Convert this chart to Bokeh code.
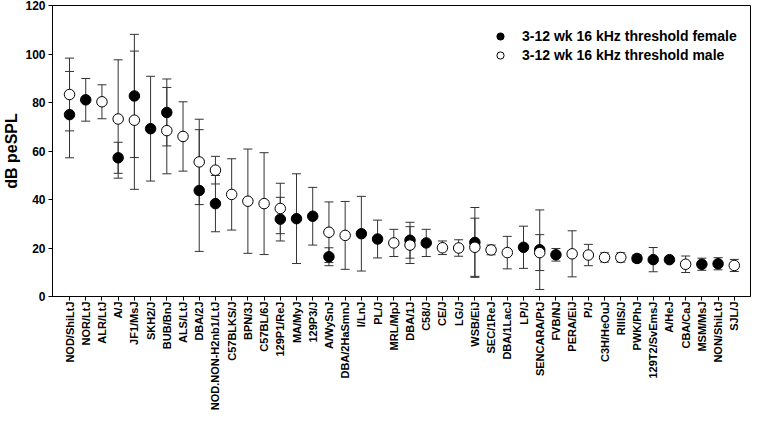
import math
from bokeh.plotting import figure
from bokeh.models import (ColumnDataSource, Range1d, FixedTicker, Whisker, TeeHead,
                          Legend, LegendItem)
from bokeh.embed import file_html
from bokeh.resources import INLINE

strains = ["NOD/ShiLtJ", "NOR/LtJ", "ALR/LtJ", "A/J", "JF1/MsJ", "SKH2/J", "BUB/BnJ",
           "ALS/LtJ", "DBA/2J", "NOD.NON-H2nb1/LtJ", "C57BLKS/J", "BPN/3J", "C57BL/6J",
           "129P1/ReJ", "MA/MyJ", "129P3/J", "A/WySnJ", "DBA/2HaSmnJ", "I/LnJ", "PL/J",
           "MRL/MpJ", "DBA/1J", "C58/J", "CE/J", "LG/J", "WSB/EiJ", "SEC/1ReJ",
           "DBA/1LacJ", "LP/J", "SENCARA/PtJ", "FVB/NJ", "PERA/EiJ", "P/J", "C3H/HeOuJ",
           "RIIIS/J", "PWK/PhJ", "129T2/SvEmsJ", "A/HeJ", "CBA/CaJ", "MSM/MsJ",
           "NON/ShiLtJ", "SJL/J"]

female_mean = [75.0, 81.1, None, 57.2, 82.7, 69.2, 75.9, None, 43.7, 38.3, None, None,
               None, 31.9, 32.1, 33.1, 16.4, None, 25.9, 23.7, None, 23.2, 22.1, None,
               None, 22.3, None, None, 20.3, 19.3, 17.2, None, None, None, None, 15.7,
               15.2, 15.2, None, 13.3, 13.5, None]
female_sd = [17.8, 8.8, None, 6.4, 25.4, 21.6, 13.8, None, 25.1, 11.6, None, None,
             None, 9.0, 18.5, 11.9, 3.7, None, 15.4, 7.8, None, 7.4, 5.6, None,
             None, 14.4, None, None, 8.7, 16.4, 2.6, None, None, None, None, 1.5,
             5.0, 1.0, None, 2.5, 2.5, None]

male_mean = [83.3, None, 80.3, 73.2, 72.7, None, 68.4, 66.0, 55.5, 52.1, 42.1, 39.3,
             38.3, 36.3, None, None, 26.5, 25.2, None, None, 22.1, 21.2, None, 20.1,
             20.0, 20.3, 19.2, 18.1, None, 18.1, None, 17.6, 17.1, 16.1, 16.1, None,
             None, None, 13.3, None, None, 12.8]
male_sd = [15.0, None, 7.0, 24.4, 28.5, None, 17.8, 14.3, 17.6, 5.7, 14.7, 21.5,
           21.0, 10.4, None, None, 12.5, 14.0, None, None, 5.6, 7.6, None, 2.8,
           3.4, 12.0, 2.0, 6.7, None, 7.4, None, 9.5, 4.4, 1.9, 1.9, None,
           None, None, 3.4, None, None, 2.5]

y_ticks = [0, 20, 40, 60, 80, 100, 120]
series_labels = ["3-12 wk 16 kHz threshold female", "3-12 wk 16 kHz threshold male"]


def build(mean, sd):
    xs, ys, lo, hi = [], [], [], []
    for i, (m, s) in enumerate(zip(mean, sd)):
        if m is None:
            continue
        xs.append(i)
        ys.append(m)
        lo.append(m - s)
        hi.append(m + s)
    return ColumnDataSource(dict(x=xs, y=ys, lower=lo, upper=hi))


FONT = "Liberation Sans"
BAR = "#333333"

fsrc = build(female_mean, female_sd)
msrc = build(male_mean, male_sd)

p = figure(width=751, height=414, output_backend="svg", toolbar_location=None,
           x_range=Range1d(-1.05, 42.0), y_range=Range1d(0, 120),
           min_border_left=47, min_border_right=1, min_border_top=5,
           min_border_bottom=118)
p.xgrid.visible = False
p.ygrid.visible = False
p.outline_line_color = "black"
p.outline_line_alpha = 1
p.outline_line_width = 1
p.background_fill_color = "white"
p.border_fill_color = "white"

for src in (fsrc, msrc):
    w = Whisker(source=src, base="x", upper="upper", lower="lower",
                line_color=BAR, line_width=1,
                upper_head=TeeHead(size=9, line_color=BAR, line_width=1),
                lower_head=TeeHead(size=9, line_color=BAR, line_width=1))
    w.level = "underlay"
    p.add_layout(w)

fr = p.scatter("x", "y", source=fsrc, size=10.5, marker="circle",
               fill_color="black", line_color="black", line_width=1)
mr = p.scatter("x", "y", source=msrc, size=10.5, marker="circle",
               fill_color="white", line_color="black", line_width=1)

legend = Legend(items=[LegendItem(label=series_labels[0], renderers=[fr]),
                       LegendItem(label=series_labels[1], renderers=[mr])],
                location=(438, 232), padding=0, spacing=1,
                glyph_width=20, glyph_height=18, label_height=18,
                label_standoff=12, border_line_alpha=0, background_fill_alpha=0,
                label_text_font=FONT, label_text_font_style="bold",
                label_text_font_size="14px", label_text_color="black")
p.add_layout(legend)

# x axis
p.xaxis.ticker = FixedTicker(ticks=list(range(len(strains))))
p.xaxis.major_label_overrides = {i: s for i, s in enumerate(strains)}
p.xaxis.major_label_orientation = math.pi / 2
p.xaxis.minor_tick_line_color = None
p.xaxis.major_tick_in = 0
p.xaxis.major_tick_out = 4
p.xaxis.major_label_standoff = 1
p.xaxis.major_label_text_font = FONT
p.xaxis.major_label_text_font_style = "bold"
p.xaxis.major_label_text_font_size = "11px"
p.xaxis.major_label_text_color = "black"
p.xaxis.axis_line_color = "black"
p.xaxis.major_tick_line_color = "black"

# y axis
p.yaxis.ticker = FixedTicker(ticks=y_ticks)
p.yaxis.minor_tick_line_color = None
p.yaxis.major_tick_in = 0
p.yaxis.major_tick_out = 4
p.yaxis.major_label_standoff = 3
p.yaxis.major_label_text_font = FONT
p.yaxis.major_label_text_font_style = "bold"
p.yaxis.major_label_text_font_size = "12px"
p.yaxis.major_label_text_color = "black"
p.yaxis.axis_label = "dB peSPL"
p.yaxis.axis_label_standoff = 2
p.yaxis.axis_label_text_font = FONT
p.yaxis.axis_label_text_font_style = "bold"
p.yaxis.axis_label_text_font_size = "16px"
p.yaxis.axis_label_text_color = "black"
p.yaxis.axis_line_color = "black"
p.yaxis.major_tick_line_color = "black"

open("out.html", "w").write(file_html(p, INLINE))
